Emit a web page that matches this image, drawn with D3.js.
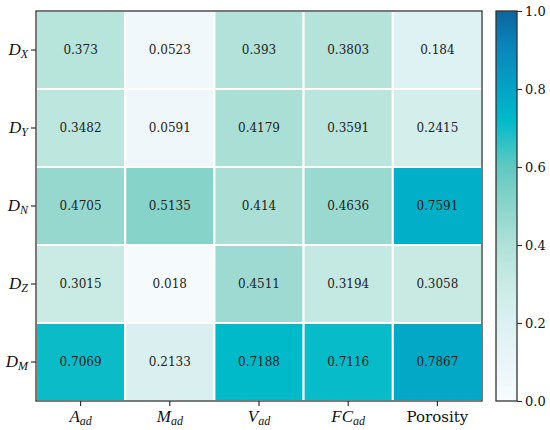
<!DOCTYPE html>
<html>
<head>
<meta charset="utf-8">
<script src="https://cdn.jsdelivr.net/npm/d3@7"></script>
<style>
  body { margin: 0; background: #fff; }
  svg { display: block; }
</style>
</head>
<body>
<div id="chart"></div>
<script>
// rows / columns
var rowBase = ["D", "D", "D", "D", "D"];
var rowSub = ["X", "Y", "N", "Z", "M"];
var colBase = ["A", "M", "V", "FC", "Porosity"];
var colSub = ["ad", "ad", "ad", "ad", ""];

// cell values, one array per row
var dX = [0.373, 0.0523, 0.393, 0.3803, 0.184];
var dY = [0.3482, 0.0591, 0.4179, 0.3591, 0.2415];
var dN = [0.4705, 0.5135, 0.414, 0.4636, 0.7591];
var dZ = [0.3015, 0.018, 0.4511, 0.3194, 0.3058];
var dM = [0.7069, 0.2133, 0.7188, 0.7116, 0.7867];

var cbarTicks = [0.0, 0.2, 0.4, 0.6, 0.8, 1.0];

var rows = [dX, dY, dN, dZ, dM];

var width = 550, height = 430;
var plotLeft = 36, plotTop = 11, plotRight = 482, plotBottom = 401;
var cbLeft = 496, cbRight = 517;

var svg = d3.select("#chart").append("svg")
    .attr("width", width)
    .attr("height", height);

var x = d3.scaleBand().domain(d3.range(colBase.length)).range([plotLeft, plotRight]);
var y = d3.scaleBand().domain(d3.range(rowBase.length)).range([plotTop, plotBottom]);

var color = d3.scaleLinear()
    .domain([0, 0.1, 0.2, 0.3, 0.4, 0.5, 0.6, 0.72, 0.8, 0.9, 1.0])
    .range(["#f7fbfe", "#ebf5f9", "#dcf0f2", "#c9ebe4", "#b0e1d8", "#8cd4ca",
            "#62c9c1", "#00bac9", "#03a4c6", "#0a88bb", "#0b66a0"])
    .clamp(true);

var cells = [];
rows.forEach(function(r, i) {
    r.forEach(function(v, j) {
        cells.push({row: i, col: j, value: v});
    });
});

// cells
svg.append("g").selectAll("rect")
    .data(cells)
    .enter()
    .append("rect")
    .attr("x", function(d) { return x(d.col); })
    .attr("y", function(d) { return y(d.row); })
    .attr("width", x.bandwidth())
    .attr("height", y.bandwidth())
    .style("fill", function(d) { return color(d.value); })
    .style("stroke", "#fff")
    .style("stroke-width", 2);

// annotations
svg.append("g").selectAll("text")
    .data(cells)
    .enter()
    .append("text")
    .attr("x", function(d) { return x(d.col) + x.bandwidth() / 2; })
    .attr("y", function(d) { return y(d.row) + y.bandwidth() / 2; })
    .attr("dy", "0.35em")
    .attr("text-anchor", "middle")
    .text(function(d) { return d.value; })
    .style("font-family", "DejaVu Serif")
    .style("font-size", "12px")
    .style("fill", "#222");

// frame
svg.append("rect")
    .attr("x", plotLeft)
    .attr("y", plotTop)
    .attr("width", plotRight - plotLeft)
    .attr("height", plotBottom - plotTop)
    .style("fill", "none")
    .style("stroke", "#333")
    .style("stroke-width", 1.3);

// axes ticks
var yAxis = svg.append("g")
    .attr("transform", "translate(" + plotLeft + ",0)")
    .call(d3.axisLeft(y).tickSize(5).tickFormat(""));
var xAxis = svg.append("g")
    .attr("transform", "translate(0," + plotBottom + ")")
    .call(d3.axisBottom(x).tickSize(5).tickFormat(""));
[yAxis, xAxis].forEach(function(a) {
    a.select(".domain").remove();
    a.selectAll("line").style("stroke", "#333").style("stroke-width", 1.2);
});

// y labels
var yl = svg.append("g").selectAll("text")
    .data(d3.range(rowBase.length))
    .enter()
    .append("text")
    .attr("x", plotLeft - 8)
    .attr("y", function(i) { return y(i) + y.bandwidth() / 2 + 5; })
    .attr("text-anchor", "end")
    .style("font-family", "Liberation Serif")
    .style("font-style", "italic")
    .style("fill", "#111");
yl.append("tspan").text(function(i) { return rowBase[i]; }).style("font-size", "17px");
yl.append("tspan").attr("dy", 3).text(function(i) { return rowSub[i]; }).style("font-size", "12px");

// x labels
var xl = svg.append("g").selectAll("text")
    .data(d3.range(colBase.length))
    .enter()
    .append("text")
    .attr("x", function(i) { return x(i) + x.bandwidth() / 2; })
    .attr("y", plotBottom + 21)
    .attr("text-anchor", "middle")
    .style("fill", "#111");
xl.append("tspan")
    .text(function(i) { return colBase[i]; })
    .style("font-family", function(i) { return colSub[i] ? "Liberation Serif" : "DejaVu Serif"; })
    .style("font-style", function(i) { return colSub[i] ? "italic" : "normal"; })
    .style("font-size", function(i) { return colSub[i] ? "17px" : "15px"; });
xl.append("tspan")
    .attr("dy", 3)
    .text(function(i) { return colSub[i]; })
    .style("font-family", "Liberation Serif")
    .style("font-style", "italic")
    .style("font-size", "12px");

// colorbar
var cb = d3.scaleLinear().domain([0, 1]).range([plotBottom, plotTop]);
var grad = svg.append("defs").append("linearGradient")
    .attr("id", "cbgrad")
    .attr("x1", 0).attr("y1", 1).attr("x2", 0).attr("y2", 0);
grad.selectAll("stop")
    .data(d3.range(0, 1.0001, 0.02))
    .enter()
    .append("stop")
    .attr("offset", function(d) { return d; })
    .attr("stop-color", function(d) { return color(d); });

svg.append("rect")
    .attr("x", cbLeft)
    .attr("y", plotTop)
    .attr("width", cbRight - cbLeft)
    .attr("height", plotBottom - plotTop)
    .style("fill", "url(#cbgrad)")
    .style("stroke", "#333")
    .style("stroke-width", 1.3);

var cAxis = svg.append("g")
    .attr("transform", "translate(" + cbRight + ",0)")
    .call(d3.axisRight(cb).tickValues(cbarTicks).tickSize(5).tickFormat(d3.format(".1f")));
cAxis.select(".domain").remove();
cAxis.selectAll("line").style("stroke", "#333").style("stroke-width", 1.2);
cAxis.selectAll("text")
    .attr("x", 8)
    .style("font-family", "DejaVu Serif")
    .style("font-size", "13px")
    .style("fill", "#111");
</script>
</body>
</html>
